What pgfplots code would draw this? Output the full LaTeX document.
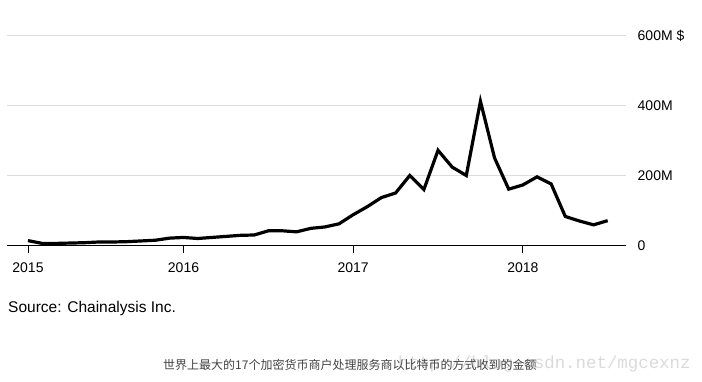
\documentclass[border=0pt]{standalone}
\usepackage{pgfplots}
\pgfplotsset{compat=1.18}
\usepackage{fontspec}
\setmainfont{Liberation Sans}
\newfontfamily\cjk{Noto Sans CJK SC}
\newfontfamily\wm{Liberation Mono}
\definecolor{gridgray}{HTML}{DDDDDD}
\definecolor{capgray}{HTML}{444444}
\definecolor{wmgray}{HTML}{DADADA}
\begin{document}
\begin{tikzpicture}
\path[use as bounding box] (0pt,0pt) rectangle (702pt,381pt);
\begin{axis}[
  at={(7.5pt,135.5pt)}, anchor=south west,
  scale only axis, width=618pt, height=210pt,
  xmin=-1.45, xmax=42.26, ymin=0, ymax=600,
  axis x line*=bottom, axis y line*=right,
  y axis line style={draw=none},
  x axis line style={black, line width=1.1pt},
  xtick={0,11,23,35}, xticklabels={2015,2016,2017,2018},
  ytick={0,200,400,600}, yticklabels={0,200M,400M,600M \$},
  ymajorgrids, grid style={gridgray, line width=1.5pt},
  tick align=outside, major tick length=7pt,
  xtick style={black, line width=0.8pt},
  ytick style={draw=none},
  xticklabel style={font=\fontsize{14}{14}\selectfont, anchor=north, inner sep=0pt, yshift=-10pt},
  yticklabel style={font=\fontsize{14}{14}\selectfont, anchor=west, inner sep=0pt, xshift=5pt},
  clip=false,
]
\addplot[black, line width=3.2pt, line join=miter, no markers] table {
x y
0 14
1 6
2 6
3 7
4 8
5 10
6 10
7 11
8 13
9 15
10 21
11 23
12 20
13 23
14 26
15 29
16 30
17 42
18 42
19 39
20 49
21 53
22 62
23 88
24 111
25 137
26 150
27 200
28 160
29 272
30 224
31 200
32 412
33 250
34 161
35 173
36 196
37 176
38 83
39 70
40 59
41 71
};
\end{axis}
\node[anchor=west, inner sep=0pt, font=\fontsize{15.5}{15.5}\selectfont] at (8pt,73pt) {Source: Chainalysis Inc.};
\node[anchor=west, inner sep=0pt, text=wmgray, font=\wm\fontsize{17.4}{17.4}\selectfont] at (398pt,17pt) {http://blog.csdn.net/mgcexnz};
\node[anchor=west, inner sep=0pt, text=capgray, font=\cjk\fontsize{12}{12}\selectfont] at (163pt,16pt) {世界上最大的17个加密货币商户处理服务商以比特币的方式收到的金额};
\end{tikzpicture}
\end{document}
